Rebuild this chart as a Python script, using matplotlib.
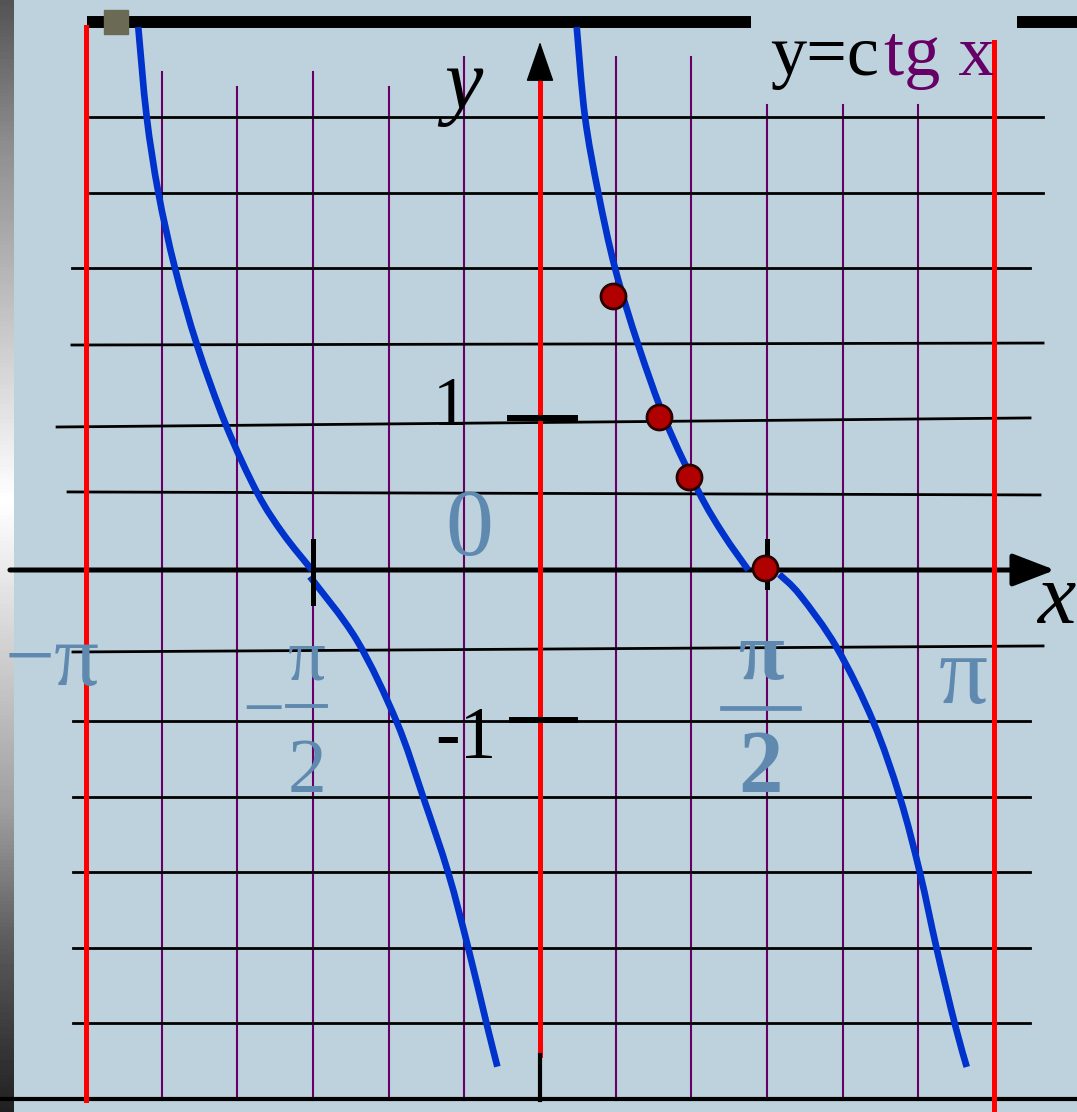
import numpy as np
import matplotlib
matplotlib.use("Agg")
import matplotlib.pyplot as plt
from matplotlib.path import Path
from matplotlib.patches import PathPatch

plt.rcParams["font.family"] = ["Liberation Serif", "DejaVu Serif"]

# ── data (x in radians, y in units) ─────────────────────────
# cot curve, drawn as 4 pieces
LEFT_UP_X = [-2.780, -2.722, -2.641, -2.526, -2.371, -2.173, -1.956, -1.776, -1.578]
LEFT_UP_Y = [3.596, 3.004, 2.500, 2.000, 1.483, 0.960, 0.510, 0.238, 0.000]
LEFT_LO_X = [-1.592, -1.268, -0.992, -0.808, -0.635, -0.496, -0.369, -0.295]
LEFT_LO_Y = [-0.044, -0.464, -1.005, -1.505, -2.005, -2.505, -3.007, -3.289]
RIGHT_UP_X = [0.254, 0.311, 0.403, 0.519, 0.680, 0.872, 1.102, 1.268, 1.441]
RIGHT_UP_Y = [3.596, 3.004, 2.500, 2.000, 1.490, 0.980, 0.510, 0.238, 0.000]
RIGHT_LO_X = [1.656, 1.799, 2.053, 2.306, 2.491, 2.630, 2.745, 2.872, 2.953]
RIGHT_LO_Y = [-0.029, -0.166, -0.513, -1.005, -1.507, -2.009, -2.508, -3.012, -3.291]

# red points on the curve
DOT_X = [0.507, 0.823, 1.033, 1.557]
DOT_Y = [1.817, 1.013, 0.616, 0.013]

# vertical purple grid (multiples of pi/6) and their top ends
VGRID_K = [-5, -4, -3, -2, -1, 1, 2, 3, 4, 5]
VGRID_TOP = [3.298, 3.199, 3.298, 3.199, 3.397, 3.397, 3.397, 3.079, 3.079, 3.079]
VGRID_BOTTOM = -3.510

# horizontal black grid lines (slightly tilted in the picture)
HGRID_Y0 = [3.0, 2.5, 2.0, 1.490, 0.947, 0.517, -0.543, -1.0, -1.5, -2.0, -2.5, -3.0]
HGRID_Y1 = [3.0, 2.5, 2.0, 1.503, 1.007, 0.497, -0.503, -1.0, -1.5, -2.0, -2.5, -3.0]
HGRID_X0 = [-3.114, -3.114, -3.239, -3.239, -3.342, -3.266, -3.232,
            -3.232, -3.232, -3.232, -3.232, -3.232]
HGRID_X1 = [3.481, 3.481, 3.391, 3.481, 3.391, 3.460, 3.481,
            3.391, 3.391, 3.391, 3.391, 3.391]

# red asymptote lines at -pi, 0, pi
RED_X = [-np.pi, 0.0, np.pi]
RED_TOP = [3.596, 3.397, 3.497]
RED_BOTTOM = [-3.510, -3.212, -3.70]

BG = "#BED2DD"
BLUE = "#0033CC"
PURPLE = "#660066"
STEEL = "#5F89AF"

PX_PER_RAD = 454 / np.pi
PX_PER_UNIT = 151.0
XMIN, XMAX = -540 / PX_PER_RAD, 537 / PX_PER_RAD
YMIN, YMAX = -542 / PX_PER_UNIT, 570 / PX_PER_UNIT


def smooth_path(xs, ys):
    # smooth curve through the traced points (Catmull-Rom as cubic Bezier)
    pts = np.column_stack([xs, ys])
    verts, codes = [pts[0]], [Path.MOVETO]
    n = len(pts)
    for i in range(n - 1):
        p0 = pts[i - 1] if i > 0 else pts[i]
        p1, p2 = pts[i], pts[i + 1]
        p3 = pts[i + 2] if i + 2 < n else pts[i + 1]
        verts += [p1 + (p2 - p0) / 6, p2 - (p3 - p1) / 6, p2]
        codes += [Path.CURVE4] * 3
    return Path(verts, codes)


fig = plt.figure(figsize=(10.77, 11.12), dpi=100)
ax = fig.add_axes([0, 0, 1, 1])
ax.set_xlim(XMIN, XMAX)
ax.set_ylim(YMIN, YMAX)
ax.axis("off")
fig.patch.set_facecolor(BG)
ax.set_facecolor(BG)

# left gray gradient strip
stops_y = np.array([YMAX, 2.85, 1.4, 0.46, -1.6, -2.5, YMIN])
stops_v = np.array([0.33, 0.55, 0.82, 1.0, 0.62, 0.35, 0.13])
yy = np.linspace(YMAX, YMIN, 300)
grad = np.interp(-yy, -stops_y, stops_v)[:, None]
ax.imshow(grad, cmap="gray", vmin=0, vmax=1, aspect="auto",
          extent=[XMIN, XMIN + 14 / PX_PER_RAD, YMIN, YMAX], zorder=0)

# purple vertical grid
for k, top in zip(VGRID_K, VGRID_TOP):
    xv = k * np.pi / 6
    ax.plot([xv, xv], [VGRID_BOTTOM, top], color=PURPLE, lw=1.5, zorder=1)

# black horizontal grid
for x0, x1, y0, y1 in zip(HGRID_X0, HGRID_X1, HGRID_Y0, HGRID_Y1):
    ax.plot([x0, x1], [y0, y1], color="black", lw=2.0, zorder=2)
ax.plot([XMIN, XMAX], [-3.5, -3.5], color="black", lw=3.0, zorder=2)

# top bar + little square
ax.plot([-3.135, 1.460], [3.629, 3.629], color="black", lw=8.6,
        solid_capstyle="butt", zorder=3)
ax.plot([3.301, XMAX], [3.629, 3.629], color="black", lw=8.6,
        solid_capstyle="butt", zorder=3)
ax.plot([-2.937], [3.629], marker="s", ms=17, color="#6B6B55", zorder=4)

# x axis with arrow
ax.annotate("", xy=(3.564, 0), xytext=(-3.668, 0),
            arrowprops=dict(arrowstyle="-|>,head_length=1.3,head_width=0.5",
                            mutation_scale=20, lw=3.6, color="black",
                            shrinkA=0, shrinkB=0), zorder=3)

# red lines
for xr, t, b in zip(RED_X, RED_TOP, RED_BOTTOM):
    ax.plot([xr, xr], [b, t], color="#FF0000", lw=3.6, zorder=4)
ax.plot([0, 0], [-3.212, -3.510], color="black", lw=3.0, zorder=4)

# y axis arrow head
ax.annotate("", xy=(0, 3.497), xytext=(0, 3.25),
            arrowprops=dict(arrowstyle="-|>,head_length=1.3,head_width=0.45",
                            mutation_scale=20, lw=1, color="black",
                            shrinkA=0, shrinkB=0), zorder=5)

# curve
for xs, ys in [(LEFT_UP_X, LEFT_UP_Y), (LEFT_LO_X, LEFT_LO_Y),
               (RIGHT_UP_X, RIGHT_UP_Y), (RIGHT_LO_X, RIGHT_LO_Y)]:
    ax.add_patch(PathPatch(smooth_path(xs, ys), facecolor="none",
                           edgecolor=BLUE, lw=4.8, capstyle="butt", zorder=5))

# ticks
ax.plot([-0.208, 0.242], [1.007, 1.007], color="black", lw=4.3, zorder=6)
ax.plot([-0.194, 0.242], [-0.993, -0.993], color="black", lw=4.3, zorder=6)
ax.plot([-np.pi / 2, -np.pi / 2], [0.192, -0.219], color="black", lw=3.6, zorder=6)
ax.plot([np.pi / 2, np.pi / 2], [0.192, -0.113], color="black", lw=3.6, zorder=6)

# dots
ax.plot(DOT_X, DOT_Y, "o", ms=18, color="#B00000", mec="#2A0000",
        mew=2.0, zorder=7)

# text
ax.text(-0.533, 3.06, "y", fontsize=62, style="italic", ha="center",
        va="baseline", zorder=8)
ax.text(3.571, -0.351, "x", fontsize=62, style="italic", ha="center",
        va="baseline", zorder=8)
ax.text(1.592, 3.278, "y=c", fontsize=52, ha="left", va="baseline", zorder=8)
ax.text(2.380, 3.278, "tg x", fontsize=52, color=PURPLE,
        ha="left", va="baseline", zorder=8)
ax.text(-0.623, 0.960, "1", fontsize=50, ha="center", va="baseline", zorder=8)
ax.text(-0.512, -1.245, "-1", fontsize=53, ha="center", va="baseline", zorder=8)
ax.text(-0.491, 0.099, "0", fontsize=69, color=STEEL, ha="center",
        va="baseline", zorder=8)
ax.text(-3.377, -0.762, "−π", fontsize=64, color=STEEL, ha="center",
        va="baseline", zorder=8)

# -pi/2
ax.text(-1.913, -1.075, "−", fontsize=54, color=STEEL, ha="center",
        va="baseline", zorder=8)
ax.text(-1.615, -0.728, "π", fontsize=54, color=STEEL, ha="center",
        va="baseline", zorder=8)
ax.plot([-1.751, -1.481], [-0.900, -0.900], color=STEEL, lw=2.8, zorder=8)
ax.text(-1.615, -1.470, "2", fontsize=56, color=STEEL, ha="center",
        va="baseline", zorder=8)

# pi/2
ax.text(1.536, -0.722, "π", fontsize=60, color=STEEL, fontweight="bold",
        ha="center", va="baseline", zorder=8)
ax.plot([1.259, 1.792], [-0.914, -0.914], color=STEEL, lw=3.4, zorder=8)
ax.text(1.529, -1.464, "2", fontsize=64, color=STEEL, fontweight="bold",
        ha="center", va="baseline", zorder=8)

# pi
ax.text(2.927, -0.881, "π", fontsize=70, color=STEEL, ha="center",
        va="baseline", zorder=8)

fig.savefig("out.png", dpi=100, facecolor=BG)
plt.close(fig)
